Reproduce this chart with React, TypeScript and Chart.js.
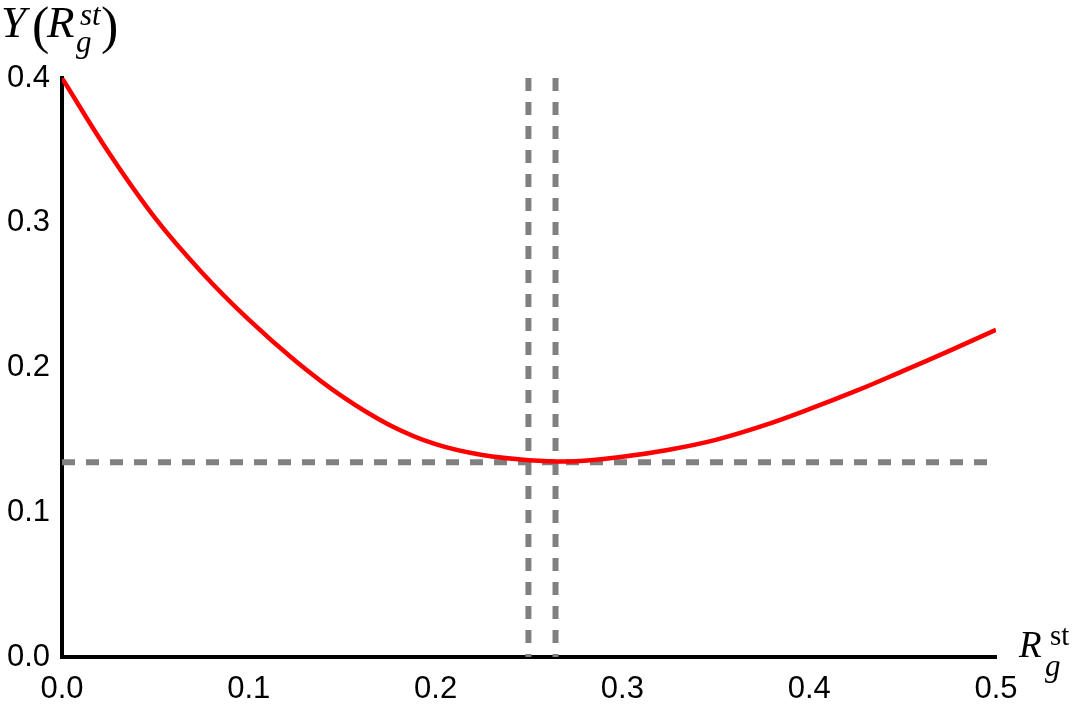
import React, { useEffect, useRef } from "react";
import { Chart, registerables } from "chart.js";

Chart.register(...registerables);

const rValues = [0, 0.025, 0.05, 0.075, 0.1, 0.125, 0.15, 0.175, 0.2, 0.225, 0.25, 0.275, 0.3, 0.325, 0.35, 0.375, 0.4, 0.425, 0.45, 0.475, 0.5];
const yValues = [0.4, 0.3485, 0.303, 0.2655, 0.233, 0.2045, 0.18, 0.1605, 0.147, 0.1395, 0.136, 0.1352, 0.1383, 0.1432, 0.15, 0.1596, 0.1712, 0.1838, 0.1975, 0.2115, 0.226];
const minY = 0.1345;
const verticalX = [0.2497, 0.2642];
const xTicks = [0, 0.1, 0.2, 0.3, 0.4, 0.5];
const yTicks = [0, 0.1, 0.2, 0.3, 0.4];

const labelsPlugin = {
  id: "mathLabels",
  afterDraw(chart: any) {
    const ctx = chart.ctx;
    ctx.save();
    ctx.fillStyle = "#000";
    ctx.textBaseline = "alphabetic";
    ctx.textAlign = "left";
    const serif = "'Liberation Serif', 'DejaVu Serif', serif";
    // Y title: Y(R_g^st)
    ctx.font = `italic 45px ${serif}`;
    ctx.fillText("Y", 1, 37);
    ctx.font = `52px ${serif}`;
    ctx.fillText("(", 32, 43);
    ctx.font = `italic 45px ${serif}`;
    ctx.fillText("R", 47, 37);
    ctx.font = `italic 31px ${serif}`;
    ctx.fillText("st", 80, 25);
    ctx.fillText("g", 76, 52);
    ctx.font = `52px ${serif}`;
    ctx.fillText(")", 101, 43);
    // X label: R_g^st
    ctx.font = `italic 37px ${serif}`;
    ctx.fillText("R", 1019, 657);
    ctx.font = `29px ${serif}`;
    ctx.fillText("st", 1050, 645);
    ctx.font = `italic 31px ${serif}`;
    ctx.fillText("g", 1045, 676);
    ctx.restore();
  },
};

export default function App() {
  const ref = useRef<HTMLCanvasElement>(null);
  useEffect(() => {
    if (!ref.current) return;
    const curve = rValues.map((r, i) => ({ x: r, y: yValues[i] }));
    const dashStyle = {
      borderColor: "#808080",
      borderWidth: 6,
      borderDash: [13, 11],
      pointRadius: 0,
      fill: false,
      tension: 0,
    };
    const chart = new Chart(ref.current, {
      type: "line",
      data: {
        datasets: [
          {
            data: curve,
            borderColor: "#ff0000",
            borderWidth: 4.5,
            pointRadius: 0,
            tension: 0.4,
            fill: false,
          } as any,
          { data: [{ x: 0, y: minY }, { x: 0.5, y: minY }], ...dashStyle } as any,
          { data: [{ x: verticalX[0], y: 0.4 }, { x: verticalX[0], y: 0 }], ...dashStyle } as any,
          { data: [{ x: verticalX[1], y: 0.4 }, { x: verticalX[1], y: 0 }], ...dashStyle } as any,
        ],
      },
      options: {
        animation: false,
        responsive: false,
        layout: { padding: { left: 0, top: 78, right: 83, bottom: 0 } },
        plugins: { legend: { display: false }, tooltip: { enabled: false } },
        scales: {
          x: {
            type: "linear",
            min: 0,
            max: 0.5,
            afterFit: (s: any) => { s.height = 52; },
            afterBuildTicks: (s: any) => { s.ticks = xTicks.map((v) => ({ value: v })); },
            grid: { display: false, drawTicks: false },
            border: { display: true, color: "#000", width: 4 },
            ticks: {
              color: "#000",
              padding: 14,
              font: { family: "'Liberation Sans', Arial, sans-serif", size: 31 },
              callback: (v: any) => Number(v).toFixed(1),
              maxRotation: 0,
              autoSkip: false,
            },
          },
          y: {
            type: "linear",
            min: 0,
            max: 0.4,
            afterFit: (s: any) => { s.width = 62; },
            afterBuildTicks: (s: any) => { s.ticks = yTicks.map((v) => ({ value: v })); },
            grid: { display: false, drawTicks: false },
            border: { display: true, color: "#000", width: 4 },
            ticks: {
              color: "#000",
              padding: 12,
              font: { family: "'Liberation Sans', Arial, sans-serif", size: 31 },
              callback: (v: any) => Number(v).toFixed(1),
              autoSkip: false,
            },
          },
        },
      },
      plugins: [labelsPlugin],
    });
    return () => chart.destroy();
  }, []);
  return (
    <div style={{ position: "fixed", left: 0, top: 0, width: 1079, height: 709, background: "#fff" }}>
      <canvas ref={ref} width={1079} height={709} style={{ display: "block" }} />
    </div>
  );
}
